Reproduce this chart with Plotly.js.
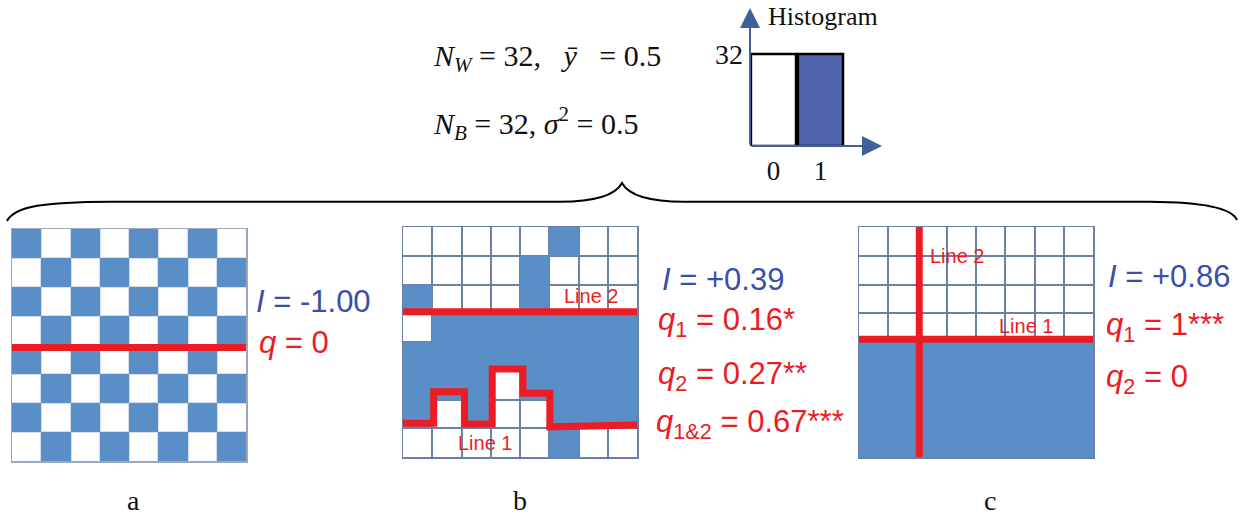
<!DOCTYPE html>
<html><head><meta charset="utf-8">
<script src="https://cdn.plot.ly/plotly-3.0.1.min.js"></script>
<style>html,body{margin:0;padding:0;background:#fff}#chart{width:1249px;height:516px}</style>
</head><body><div id="chart"></div>
<script>
// ---- data ----
const cols = [0,1,2,3,4,5,6,7];
const rows = [0,1,2,3,4,5,6,7];           // top -> bottom
const gridA = [
  [1,0,1,0,1,0,1,0],
  [0,1,0,1,0,1,0,1],
  [1,0,1,0,1,0,1,0],
  [0,1,0,1,0,1,0,1],
  [1,0,1,0,1,0,1,0],
  [0,1,0,1,0,1,0,1],
  [1,0,1,0,1,0,1,0],
  [0,1,0,1,0,1,0,1]
];
const gridB = [
  [0,0,0,0,0,1,0,0],
  [0,0,0,0,1,0,0,0],
  [1,0,0,0,1,0,0,0],
  [0,1,1,1,1,1,1,1],
  [1,1,1,1,1,1,1,1],
  [1,1,1,0,1,1,1,1],
  [1,0,1,0,0,1,1,1],
  [0,0,0,0,0,1,0,0]
];
const gridC = [
  [0,0,0,0,0,0,0,0],
  [0,0,0,0,0,0,0,0],
  [0,0,0,0,0,0,0,0],
  [0,0,0,0,0,0,0,0],
  [1,1,1,1,1,1,1,1],
  [1,1,1,1,1,1,1,1],
  [1,1,1,1,1,1,1,1],
  [1,1,1,1,1,1,1,1]
];
const gridTicks = [0.5,1.5,2.5,3.5,4.5,5.5,6.5];
// red split lines (grid coordinates)
const lineA_x = [-0.5, 7.5];            const lineA_y = [3.59, 3.59];
const lineB1_x = [-0.5,0.55,0.55,1.6,1.6,2.55,2.55,3.6,3.6,4.52,4.52,7.5];
const lineB1_y = [6.33,6.33,5.23,5.23,6.35,6.35,4.44,4.44,5.28,5.28,6.45,6.39];
const lineB2_x = [-0.5, 7.5];           const lineB2_y = [2.45, 2.45];
const lineC1_x = [-0.5, 7.5];           const lineC1_y = [3.4, 3.4];
const lineC2_x = [1.56, 1.56];          const lineC2_y = [-0.5, 7.5];
// histogram
const histBins = [0, 1];
const histCounts = [32, 32];
const histTickY = [32];
const histTickYText = ['32'];
const histTickX = [0, 1];
const histTickXText = ['0', '1'];

// ---- helpers ----
const W = 1249, H = 516;
const fx = p => p / W;
const fy = p => 1 - p / H;
const BLUE = '#5a8ec7', RED = '#ec1c24', TXTBLUE = '#3a4fa6';
const SANS = 'Liberation Sans, Arial, sans-serif';
const SERIF = 'Liberation Serif, Times New Roman, serif';
const blueOnly = g => g.map(r => r.map(v => v ? 1 : null));

function heat(z, xa, ya) {
  return {type:'heatmap', z: blueOnly(z), x: cols, y: rows, xaxis: xa, yaxis: ya,
    colorscale: [[0, BLUE],[1, BLUE]], zmin: 0, zmax: 1, showscale: false, hoverinfo: 'skip'};
}
function redLine(x, y, xa, ya) {
  return {type:'scatter', mode:'lines', x: x, y: y, xaxis: xa, yaxis: ya,
    line: {color: RED, width: 7}, hoverinfo: 'skip', showlegend: false};
}

const traces = [
  heat(gridA, 'x', 'y'),
  redLine(lineA_x, lineA_y, 'x', 'y'),
  heat(gridB, 'x2', 'y2'),
  redLine(lineB2_x, lineB2_y, 'x2', 'y2'),
  redLine(lineB1_x, lineB1_y, 'x2', 'y2'),
  heat(gridC, 'x3', 'y3'),
  redLine(lineC1_x, lineC1_y, 'x3', 'y3'),
  redLine(lineC2_x, lineC2_y, 'x3', 'y3'),
  {type:'bar', x: histBins, y: histCounts, xaxis:'x4', yaxis:'y4', width: 0.96,
   marker: {color: ['#ffffff', '#5064b0'], line: {color: '#000', width: 2.5}},
   hoverinfo: 'skip', showlegend: false}
];

function gridAxes(x0, x1, y0, y1, gridcolor, linecolor, anchorX, anchorY) {
  const xa = {domain: [fx(x0), fx(x1)], range: [-0.5, 7.5], anchor: anchorY,
    tickmode: 'array', tickvals: gridTicks, showticklabels: false, ticks: '',
    showgrid: true, gridcolor: gridcolor, gridwidth: 2, zeroline: false,
    showline: true, mirror: true, linecolor: linecolor, linewidth: 1.5, fixedrange: true};
  const ya = {domain: [fy(y1), fy(y0)], range: [7.5, -0.5], anchor: anchorX,
    tickmode: 'array', tickvals: gridTicks, showticklabels: false, ticks: '',
    showgrid: true, gridcolor: gridcolor, gridwidth: 2, zeroline: false,
    showline: true, mirror: true, linecolor: linecolor, linewidth: 1.5, fixedrange: true};
  return [xa, ya];
}
const [xA, yA] = gridAxes(12, 246, 229, 461, '#d5dfeb', '#9aa8bd', 'x', 'y');
const [xB, yB] = gridAxes(403, 637, 227, 457, '#6c80a6', '#6c80a6', 'x2', 'y2');
const [xC, yC] = gridAxes(859, 1093, 227, 457, '#6c80a6', '#6c80a6', 'x3', 'y3');

function ann(text, x, y, size, color, font, xanchor) {
  return {text: text, xref:'paper', yref:'paper', x: fx(x), y: fy(y), showarrow: false,
    xanchor: xanchor || 'left', yanchor: 'middle', font: {size: size, color: color, family: font}};
}
const FS = 31;
const LS = 20;
const annotations = [
  // top stats
  ann('<i>N</i><sub><i>W</i></sub> = 32,\u00a0\u00a0 <i>ȳ</i>\u00a0\u00a0 = 0.5', 431, 58, 30, '#111', SERIF),
  ann('<i>N</i><sub><i>B</i></sub> = 32, <i>σ</i><sup>2</sup> = 0.5', 431, 124, 30, '#111', SERIF),
  ann('Histogram', 766, 16, 26, '#111', SERIF),
  // panel a
  ann('<i>I</i> = -1.00', 254, 301, FS, TXTBLUE, SANS),
  ann('<i>q</i> = 0', 257, 342, FS, RED, SANS),
  // panel b
  ann('<i>I</i> = +0.39', 660, 279, FS, TXTBLUE, SANS),
  ann('<i>q</i><sub>1</sub> = 0.16*', 656, 322, FS, RED, SANS),
  ann('<i>q</i><sub>2</sub> = 0.27**', 656, 376, FS, RED, SANS),
  ann('<i>q</i><sub>1&amp;2</sub> = 0.67***', 654, 424, FS, RED, SANS),
  ann('Line 2', 562, 296, LS, RED, SANS),
  ann('Line 1', 456, 443, LS, RED, SANS),
  // panel c
  ann('<i>I</i> = +0.86', 1106, 276, FS, TXTBLUE, SANS),
  ann('<i>q</i><sub>1</sub> = 1***', 1104, 327, FS, RED, SANS),
  ann('<i>q</i><sub>2</sub> = 0', 1104, 379, FS, RED, SANS),
  ann('Line 2', 928, 256, LS, RED, SANS),
  ann('Line 1', 997, 326, LS, RED, SANS),
  // panel letters
  ann('a', 133, 500, 28, '#111', SERIF, 'center'),
  ann('b', 520, 500, 28, '#111', SERIF, 'center'),
  ann('c', 990, 500, 28, '#111', SERIF, 'center'),
  // histogram axis arrows
  {xref:'x4', yref:'y4', axref:'x4', ayref:'y4', x: -0.5, y: 48, ax: -0.5, ay: 0, text:'',
   showarrow: true, arrowhead: 2, arrowsize: 2, arrowwidth: 2, arrowcolor: '#3e6199', standoff: 0},
  {xref:'x4', yref:'y4', axref:'x4', ayref:'y4', x: 2.31, y: 0, ax: -0.5, ay: 0, text:'',
   showarrow: true, arrowhead: 2, arrowsize: 2, arrowwidth: 2, arrowcolor: '#3e6199', standoff: 0}
];

// curly brace (decoration), pixel coords converted to paper
function P(x, y) { return fx(x).toFixed(5) + ',' + fy(y).toFixed(5); }
const bracePath = 'M ' + P(7,221) +
  ' C ' + P(15,206) + ' ' + P(45,202) + ' ' + P(110,201.7) +
  ' L ' + P(560,201.7) +
  ' C ' + P(595,201.7) + ' ' + P(615,196) + ' ' + P(622,183) +
  ' C ' + P(629,196) + ' ' + P(649,201.7) + ' ' + P(684,201.7) +
  ' L ' + P(1150,201.7) +
  ' C ' + P(1200,202) + ' ' + P(1232,208) + ' ' + P(1237,220);

const layout = {
  width: W, height: H, margin: {l:0, r:0, t:0, b:0},
  paper_bgcolor: '#fff', plot_bgcolor: '#fff', showlegend: false,
  xaxis: xA, yaxis: yA, xaxis2: xB, yaxis2: yB, xaxis3: xC, yaxis3: yC,
  xaxis4: {domain: [fx(750), fx(882)], range: [-0.5, 2.31], anchor: 'y4',
    tickmode: 'array', tickvals: histTickX, ticktext: histTickXText, ticks: '',
    showgrid: false, zeroline: false, showline: false, ticklabelstandoff: 6,
    tickfont: {family: SERIF, size: 27, color: '#111'}, fixedrange: true},
  yaxis4: {domain: [fy(146), fy(8)], range: [0, 48], anchor: 'x4',
    tickmode: 'array', tickvals: histTickY, ticktext: histTickYText, ticks: '',
    showgrid: false, zeroline: false, showline: false, ticklabelstandoff: 6,
    tickfont: {family: SERIF, size: 28, color: '#111'}, fixedrange: true},
  annotations: annotations,
  shapes: [{type:'path', xref:'paper', yref:'paper', path: bracePath,
    line: {color: '#000', width: 2}}]
};
Plotly.newPlot('chart', traces, layout, {displayModeBar: false, staticPlot: true});
</script></body></html>
